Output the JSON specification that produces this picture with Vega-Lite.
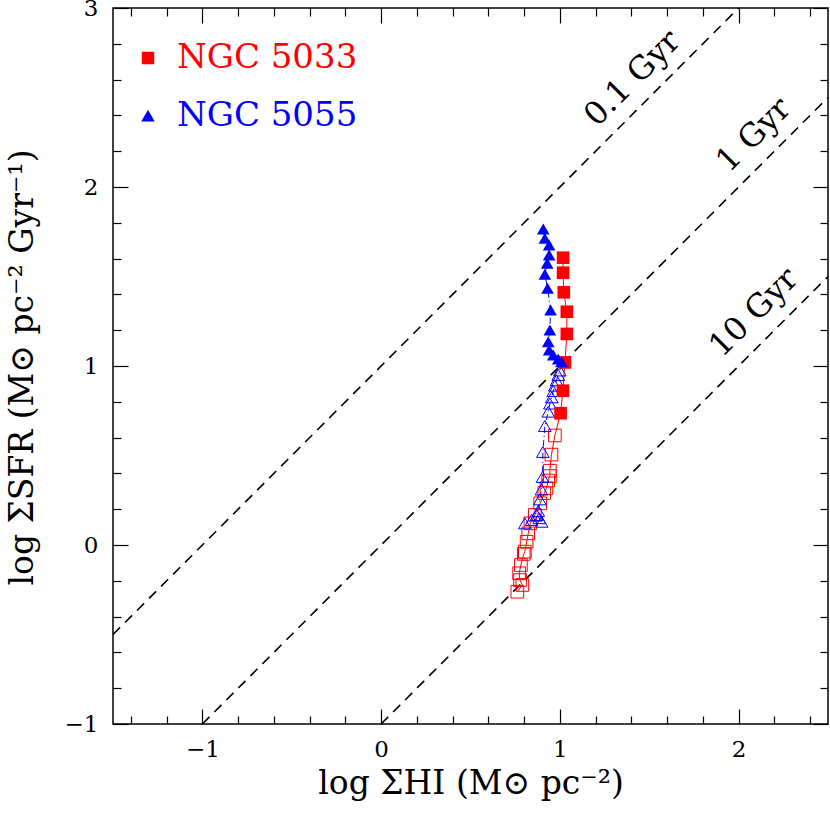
{
  "$schema": "https://vega.github.io/schema/vega-lite/v6.json",
  "width": 715,
  "height": 716,
  "autosize": "none",
  "padding": {"left": 113, "top": 8, "right": 2, "bottom": 100},
  "background": "white",
  "config": {
    "font": "DejaVu Serif",
    "view": {"stroke": "black", "strokeWidth": 1.5},
    "axis": {"grid": false, "domain": false, "tickColor": "black", "tickWidth": 1.2, "labelColor": "black", "labelFont": "DejaVu Serif", "labelFontSize": 23, "titleFont": "DejaVu Serif", "titleFontSize": 33, "titleFontWeight": "normal", "titleColor": "black"},
    "legend": {"labelFont": "DejaVu Serif", "labelFontSize": 34, "labelLimit": 0, "symbolSize": 120, "symbolOpacity": 1, "labelOffset": 12, "rowPadding": 24}
  },
  "datasets": {
    "profiles": [
      {"galaxy": "NGC 5033", "zone": "inner", "i": 1, "x": 1.018, "y": 1.605},
      {"galaxy": "NGC 5033", "zone": "inner", "i": 2, "x": 1.018, "y": 1.521},
      {"galaxy": "NGC 5033", "zone": "inner", "i": 3, "x": 1.022, "y": 1.412},
      {"galaxy": "NGC 5033", "zone": "inner", "i": 4, "x": 1.039, "y": 1.303},
      {"galaxy": "NGC 5033", "zone": "inner", "i": 5, "x": 1.039, "y": 1.179},
      {"galaxy": "NGC 5033", "zone": "inner", "i": 6, "x": 1.028, "y": 1.02},
      {"galaxy": "NGC 5033", "zone": "inner", "i": 7, "x": 1.017, "y": 0.862},
      {"galaxy": "NGC 5033", "zone": "inner", "i": 8, "x": 1.004, "y": 0.736},
      {"galaxy": "NGC 5033", "zone": "outer", "i": 9, "x": 0.972, "y": 0.612},
      {"galaxy": "NGC 5033", "zone": "outer", "i": 10, "x": 0.953, "y": 0.505},
      {"galaxy": "NGC 5033", "zone": "outer", "i": 11, "x": 0.944, "y": 0.415},
      {"galaxy": "NGC 5033", "zone": "outer", "i": 12, "x": 0.944, "y": 0.385},
      {"galaxy": "NGC 5033", "zone": "outer", "i": 13, "x": 0.935, "y": 0.36},
      {"galaxy": "NGC 5033", "zone": "outer", "i": 14, "x": 0.925, "y": 0.317},
      {"galaxy": "NGC 5033", "zone": "outer", "i": 15, "x": 0.913, "y": 0.29},
      {"galaxy": "NGC 5033", "zone": "outer", "i": 16, "x": 0.89, "y": 0.233},
      {"galaxy": "NGC 5033", "zone": "outer", "i": 17, "x": 0.86, "y": 0.168},
      {"galaxy": "NGC 5033", "zone": "outer", "i": 18, "x": 0.835, "y": 0.121},
      {"galaxy": "NGC 5033", "zone": "outer", "i": 19, "x": 0.823, "y": 0.065},
      {"galaxy": "NGC 5033", "zone": "outer", "i": 20, "x": 0.814, "y": 0.018},
      {"galaxy": "NGC 5033", "zone": "outer", "i": 21, "x": 0.804, "y": -0.037},
      {"galaxy": "NGC 5033", "zone": "outer", "i": 22, "x": 0.798, "y": -0.05},
      {"galaxy": "NGC 5033", "zone": "outer", "i": 23, "x": 0.782, "y": -0.112},
      {"galaxy": "NGC 5033", "zone": "outer", "i": 24, "x": 0.772, "y": -0.158},
      {"galaxy": "NGC 5033", "zone": "outer", "i": 25, "x": 0.777, "y": -0.196},
      {"galaxy": "NGC 5033", "zone": "outer", "i": 26, "x": 0.79, "y": -0.223},
      {"galaxy": "NGC 5033", "zone": "outer", "i": 27, "x": 0.762, "y": -0.261},
      {"galaxy": "NGC 5055", "zone": "inner", "i": 1, "x": 0.907, "y": 1.765},
      {"galaxy": "NGC 5055", "zone": "inner", "i": 2, "x": 0.916, "y": 1.713},
      {"galaxy": "NGC 5055", "zone": "inner", "i": 3, "x": 0.94, "y": 1.676},
      {"galaxy": "NGC 5055", "zone": "inner", "i": 4, "x": 0.94, "y": 1.62},
      {"galaxy": "NGC 5055", "zone": "inner", "i": 5, "x": 0.929, "y": 1.574},
      {"galaxy": "NGC 5055", "zone": "inner", "i": 6, "x": 0.916, "y": 1.512},
      {"galaxy": "NGC 5055", "zone": "inner", "i": 7, "x": 0.931, "y": 1.434},
      {"galaxy": "NGC 5055", "zone": "inner", "i": 8, "x": 0.948, "y": 1.313},
      {"galaxy": "NGC 5055", "zone": "inner", "i": 9, "x": 0.944, "y": 1.201},
      {"galaxy": "NGC 5055", "zone": "inner", "i": 10, "x": 0.935, "y": 1.136},
      {"galaxy": "NGC 5055", "zone": "inner", "i": 11, "x": 0.94, "y": 1.089},
      {"galaxy": "NGC 5055", "zone": "inner", "i": 12, "x": 0.963, "y": 1.061},
      {"galaxy": "NGC 5055", "zone": "inner", "i": 13, "x": 0.991, "y": 1.039},
      {"galaxy": "NGC 5055", "zone": "inner", "i": 14, "x": 1.009, "y": 1.024},
      {"galaxy": "NGC 5055", "zone": "outer", "i": 15, "x": 1.0, "y": 0.975},
      {"galaxy": "NGC 5055", "zone": "outer", "i": 16, "x": 0.991, "y": 0.95},
      {"galaxy": "NGC 5055", "zone": "outer", "i": 17, "x": 0.981, "y": 0.92},
      {"galaxy": "NGC 5055", "zone": "outer", "i": 18, "x": 0.972, "y": 0.89},
      {"galaxy": "NGC 5055", "zone": "outer", "i": 19, "x": 0.963, "y": 0.86},
      {"galaxy": "NGC 5055", "zone": "outer", "i": 20, "x": 0.955, "y": 0.825},
      {"galaxy": "NGC 5055", "zone": "outer", "i": 21, "x": 0.944, "y": 0.79},
      {"galaxy": "NGC 5055", "zone": "outer", "i": 22, "x": 0.935, "y": 0.745},
      {"galaxy": "NGC 5055", "zone": "outer", "i": 23, "x": 0.916, "y": 0.665},
      {"galaxy": "NGC 5055", "zone": "outer", "i": 24, "x": 0.905, "y": 0.52},
      {"galaxy": "NGC 5055", "zone": "outer", "i": 25, "x": 0.903, "y": 0.38},
      {"galaxy": "NGC 5055", "zone": "outer", "i": 26, "x": 0.897, "y": 0.31},
      {"galaxy": "NGC 5055", "zone": "outer", "i": 27, "x": 0.888, "y": 0.255},
      {"galaxy": "NGC 5055", "zone": "outer", "i": 28, "x": 0.879, "y": 0.19},
      {"galaxy": "NGC 5055", "zone": "outer", "i": 29, "x": 0.87, "y": 0.168},
      {"galaxy": "NGC 5055", "zone": "outer", "i": 30, "x": 0.885, "y": 0.15},
      {"galaxy": "NGC 5055", "zone": "outer", "i": 31, "x": 0.898, "y": 0.13},
      {"galaxy": "NGC 5055", "zone": "outer", "i": 32, "x": 0.842, "y": 0.14},
      {"galaxy": "NGC 5055", "zone": "outer", "i": 33, "x": 0.804, "y": 0.121}
    ],
    "depletion": [
      {"line": "0.1 Gyr", "x": -1.5, "y": -0.5},
      {"line": "0.1 Gyr", "x": 2.0, "y": 3.0},
      {"line": "1 Gyr", "x": -1.0, "y": -1.0},
      {"line": "1 Gyr", "x": 2.5, "y": 2.5},
      {"line": "10 Gyr", "x": 0.0, "y": -1.0},
      {"line": "10 Gyr", "x": 2.5, "y": 1.5}
    ],
    "labels": [
      {"text": "0.1 Gyr", "x": 1.405, "y": 2.607},
      {"text": "1 Gyr", "x": 2.084, "y": 2.291},
      {"text": "10 Gyr", "x": 2.084, "y": 1.299}
    ]
  },
  "layer": [
    {
      "data": {"name": "depletion"},
      "mark": {"type": "line", "color": "black", "strokeWidth": 1.6, "strokeDash": [10, 7]},
      "encoding": {
        "x": {"field": "x", "type": "quantitative", "scale": {"domain": [-1.5, 2.5], "nice": false, "zero": false},
              "axis": {"orient": "bottom", "values": [-1, 0, 1, 2], "ticks": false, "labelPadding": 14, "title": "log ΣHI (M⊙ pc⁻²)", "titleX": 357.5, "titleY": 69, "titleBaseline": "alphabetic"}},
        "y": {"field": "y", "type": "quantitative", "scale": {"domain": [-1, 3], "nice": false, "zero": false},
              "axis": {"orient": "left", "values": [-1, 0, 1, 2, 3], "ticks": false, "labelPadding": 15, "title": "log ΣSFR (M⊙ pc⁻² Gyr⁻¹)", "titleX": -91, "titleY": 359, "titleAngle": -90, "titleBaseline": "middle", "titleAlign": "center"}},
        "detail": {"field": "line"}
      }
    },
    {
      "data": {"name": "profiles"},
      "transform": [{"filter": "datum.galaxy === 'NGC 5033'"}],
      "mark": {"type": "line", "color": "#ff0000", "strokeWidth": 1},
      "encoding": {
        "x": {"field": "x", "type": "quantitative", "axis": {"orient": "bottom", "values": [-1, 0, 1, 2], "tickSize": -15, "labels": false, "title": null}},
        "y": {"field": "y", "type": "quantitative", "axis": {"orient": "left", "values": [-1, 0, 1, 2, 3], "tickSize": -15, "labels": false, "title": null}},
        "order": {"field": "i", "type": "quantitative"}
      }
    },
    {
      "data": {"name": "profiles"},
      "transform": [{"filter": "datum.galaxy === 'NGC 5055'"}],
      "mark": {"type": "line", "color": "#0000ff", "strokeWidth": 1, "strokeDash": [6, 3, 1, 3]},
      "encoding": {
        "x": {"field": "x", "type": "quantitative", "axis": {"orient": "bottom", "values": [-1.4, -1.2, -0.8, -0.6, -0.4, -0.2, 0.2, 0.4, 0.6, 0.8, 1.2, 1.4, 1.6, 1.8, 2.2, 2.4], "tickSize": -8, "labels": false, "title": null}},
        "y": {"field": "y", "type": "quantitative", "axis": {"orient": "left", "values": [-0.8, -0.6, -0.4, -0.2, 0.2, 0.4, 0.6, 0.8, 1.2, 1.4, 1.6, 1.8, 2.2, 2.4, 2.6, 2.8], "tickSize": -8, "labels": false, "title": null}},
        "order": {"field": "i", "type": "quantitative"}
      }
    },
    {
      "data": {"name": "profiles"},
      "transform": [{"filter": "datum.zone === 'outer'"}],
      "mark": {"type": "point", "filled": false, "opacity": 1, "strokeWidth": 1, "size": 160},
      "encoding": {
        "x": {"field": "x", "type": "quantitative", "axis": {"orient": "top", "values": [-1, 0, 1, 2], "tickSize": -15, "labels": false, "title": null}},
        "y": {"field": "y", "type": "quantitative", "axis": {"orient": "right", "values": [-1, 0, 1, 2, 3], "tickSize": -15, "labels": false, "title": null}},
        "color": {"field": "galaxy", "type": "nominal", "scale": {"domain": ["NGC 5033", "NGC 5055"], "range": ["#ff0000", "#0000ff"]}},
        "shape": {"field": "galaxy", "type": "nominal", "scale": {"domain": ["NGC 5033", "NGC 5055"], "range": ["square", "triangle-up"]}}
      }
    },
    {
      "data": {"name": "profiles"},
      "transform": [{"filter": "datum.zone === 'inner'"}],
      "mark": {"type": "point", "filled": true, "opacity": 1, "size": 160},
      "encoding": {
        "x": {"field": "x", "type": "quantitative", "axis": {"orient": "top", "values": [-1.4, -1.2, -0.8, -0.6, -0.4, -0.2, 0.2, 0.4, 0.6, 0.8, 1.2, 1.4, 1.6, 1.8, 2.2, 2.4], "tickSize": -8, "labels": false, "title": null}},
        "y": {"field": "y", "type": "quantitative", "axis": {"orient": "right", "values": [-0.8, -0.6, -0.4, -0.2, 0.2, 0.4, 0.6, 0.8, 1.2, 1.4, 1.6, 1.8, 2.2, 2.4, 2.6, 2.8], "tickSize": -8, "labels": false, "title": null}},
        "color": {"field": "galaxy", "type": "nominal", "scale": {"domain": ["NGC 5033", "NGC 5055"], "range": ["#ff0000", "#0000ff"]},
                  "legend": {"title": null, "orient": "none", "legendX": 18, "legendY": 33,
                             "encode": {"labels": {"update": {"fill": {"signal": "datum.value === 'NGC 5033' ? '#ff0000' : '#0000ff'"}}}, "symbols": {"update": {"fill": {"signal": "datum.value === 'NGC 5033' ? '#ff0000' : '#0000ff'"}, "stroke": {"value": "transparent"}}}}}},
        "shape": {"field": "galaxy", "type": "nominal", "scale": {"domain": ["NGC 5033", "NGC 5055"], "range": ["square", "triangle-up"]},
                  "legend": {"title": null, "orient": "none", "legendX": 18, "legendY": 33}}
      }
    },
    {
      "data": {"name": "labels"},
      "mark": {"type": "text", "font": "DejaVu Serif", "fontSize": 32, "angle": -45, "align": "center", "baseline": "middle", "color": "black"},
      "encoding": {
        "x": {"field": "x", "type": "quantitative", "axis": null},
        "y": {"field": "y", "type": "quantitative", "axis": null},
        "text": {"field": "text"}
      }
    }
  ],
  "resolve": {"axis": {"x": "independent", "y": "independent"}}
}
